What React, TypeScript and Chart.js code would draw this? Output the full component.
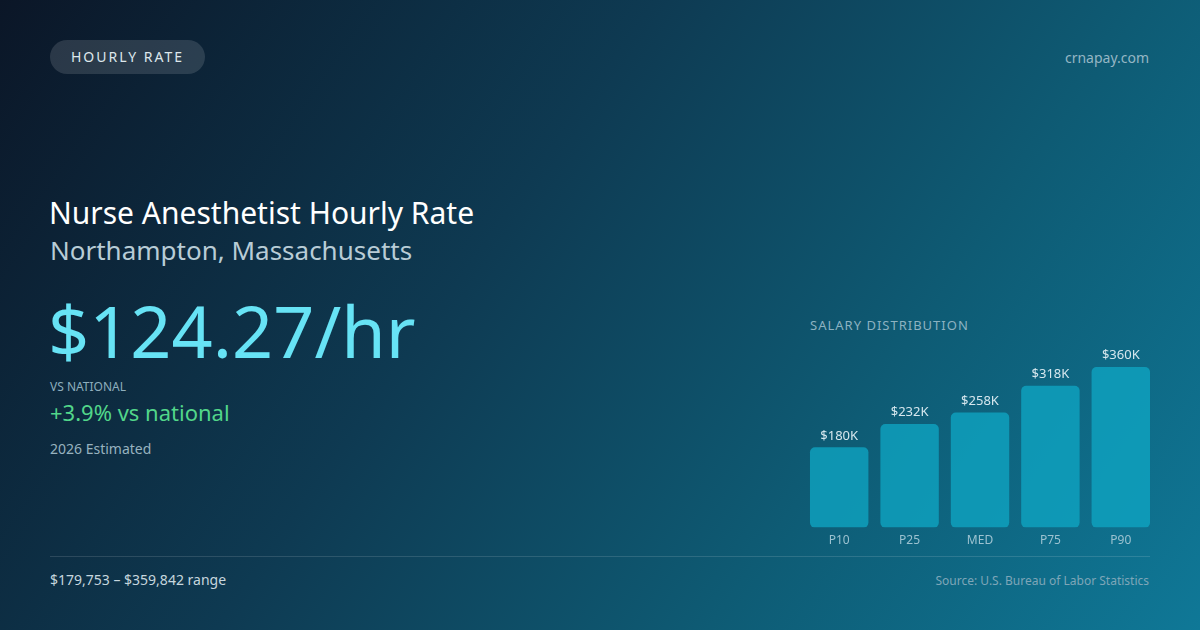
import React, { useEffect, useRef } from 'react';
import { Chart, registerables } from 'chart.js';

Chart.register(...registerables);

// salary percentiles, in thousands of dollars
const percentiles: string[] = ['P10', 'P25', 'MED', 'P75', 'P90'];
const salaryK: number[] = [180, 232, 258, 318, 360];

const FONT = '"Noto Sans", "Open Sans", sans-serif';

const valueLabels = {
  id: 'valueLabels',
  afterDatasetsDraw(chart: Chart) {
    const { ctx } = chart;
    const meta = chart.getDatasetMeta(0);
    ctx.save();
    ctx.font = `13px ${FONT}`;
    ctx.fillStyle = '#d6e7ee';
    ctx.textAlign = 'center';
    ctx.textBaseline = 'bottom';
    meta.data.forEach((bar: any, i: number) => {
      ctx.fillText(`$${salaryK[i]}K`, bar.x, bar.y - 5);
    });
    ctx.restore();
  },
};

const SalaryBars: React.FC = () => {
  const canvasRef = useRef<HTMLCanvasElement | null>(null);
  const chartInstance = useRef<Chart | null>(null);

  useEffect(() => {
    if (!canvasRef.current) return;
    if (chartInstance.current) chartInstance.current.destroy();

    chartInstance.current = new Chart(canvasRef.current, {
      type: 'bar',
      data: {
        labels: percentiles,
        datasets: [
          {
            data: salaryK,
            backgroundColor: 'rgba(14, 165, 195, 0.78)',
            borderRadius: 5,
            borderSkipped: false,
            barPercentage: 0.83,
            categoryPercentage: 1,
          },
        ],
      },
      options: {
        animation: false,
        responsive: true,
        maintainAspectRatio: false,
        layout: { padding: { top: 27, left: 0, right: 0, bottom: 0 } },
        plugins: {
          legend: { display: false },
          tooltip: { enabled: false },
        },
        scales: {
          x: {
            grid: { display: false, drawTicks: false },
            border: { display: false },
            ticks: {
              color: '#9cc2d0',
              font: { family: FONT, size: 12 },
              padding: 6,
            },
          },
          y: {
            display: false,
            min: 0,
            max: 360,
          },
        },
      },
      plugins: [valueLabels],
    });

    return () => {
      if (chartInstance.current) {
        chartInstance.current.destroy();
        chartInstance.current = null;
      }
    };
  }, []);

  return <canvas ref={canvasRef} />;
};

const App: React.FC = () => {
  const abs = (s: React.CSSProperties): React.CSSProperties => ({ position: 'absolute', margin: 0, ...s });

  return (
    <div
      style={{
        position: 'fixed',
        left: 0,
        top: 0,
        width: 1200,
        height: 630,
        overflow: 'hidden',
        fontFamily: FONT,
        background: 'linear-gradient(125deg, #0b1627 0%, #0e3a52 40%, #0e5b74 70%, #0f7897 100%)',
      }}
    >
      <div
        style={abs({
          left: 50,
          top: 40,
          width: 155,
          height: 34,
          borderRadius: 17,
          background: 'rgba(255,255,255,0.13)',
          color: '#dde7ec',
          fontSize: 14,
          letterSpacing: 2,
          lineHeight: '34px',
          textAlign: 'center',
        })}
      >
        HOURLY RATE
      </div>
      <div style={abs({ right: 51, top: 48, fontSize: 14, color: '#94b6c4', lineHeight: '20px' })}>crnapay.com</div>

      <div style={abs({ left: 49, top: 193, fontSize: 30, color: '#ffffff', lineHeight: '40px' })}>
        Nurse Anesthetist Hourly Rate
      </div>
      <div style={abs({ left: 50, top: 233, fontSize: 26, color: '#b8ccd6', lineHeight: '34px' })}>
        Northampton, Massachusetts
      </div>
      <div style={abs({ left: 48, top: 282, fontSize: 72, color: '#67e3f5', lineHeight: '96px' })}>
        $124.27/hr
      </div>
      <div style={abs({ left: 50, top: 379, fontSize: 12, color: '#8eaebd', lineHeight: '16px' })}>VS NATIONAL</div>
      <div style={abs({ left: 50, top: 398, fontSize: 22, color: '#52d68a', lineHeight: '28px' })}>
        +3.9% vs national
      </div>
      <div style={abs({ left: 50, top: 440, fontSize: 14, color: '#97b2bf', lineHeight: '18px' })}>
        2026 Estimated
      </div>

      <div style={abs({ left: 810, top: 316, fontSize: 13, letterSpacing: 1, color: '#8cb2c1', lineHeight: '18px' })}>
        SALARY DISTRIBUTION
      </div>
      <div style={abs({ left: 804, top: 340, width: 352, height: 214 })}>
        <SalaryBars />
      </div>

      <div style={abs({ left: 50, top: 556, width: 1100, height: 1, background: 'rgba(255,255,255,0.13)' })} />
      <div style={abs({ left: 50, top: 571, fontSize: 14, color: '#c6d6de', lineHeight: '18px' })}>
        $179,753 – $359,842 range
      </div>
      <div style={abs({ right: 51, top: 573, fontSize: 12, color: '#7ea6b8', lineHeight: '16px' })}>
        Source: U.S. Bureau of Labor Statistics
      </div>
    </div>
  );
};

export default App;
